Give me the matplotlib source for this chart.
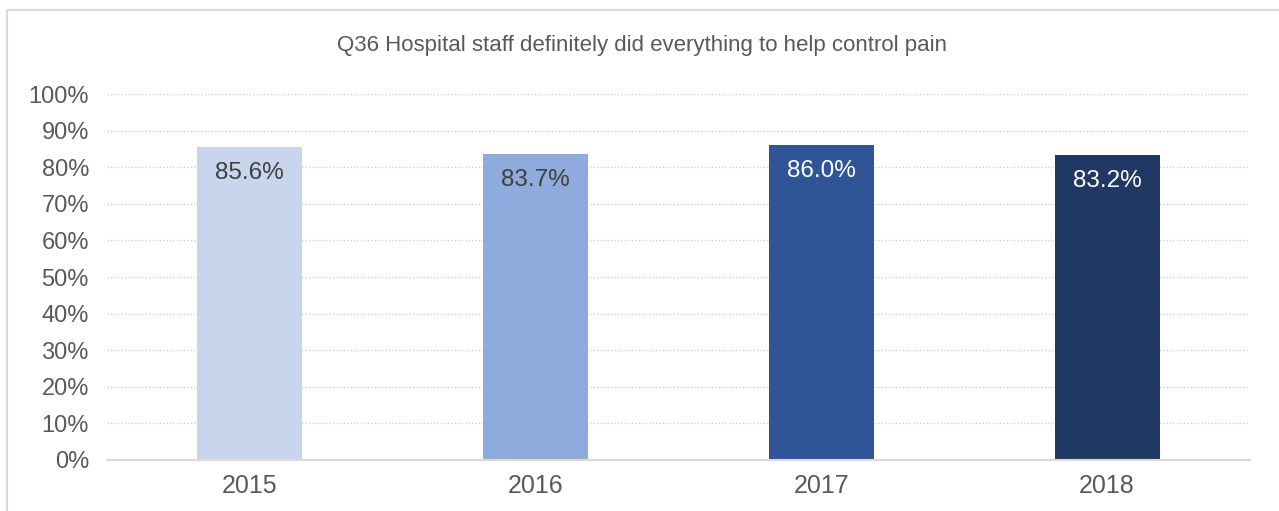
import matplotlib.pyplot as plt
from matplotlib.patches import Rectangle
from matplotlib.ticker import PercentFormatter

plt.rcParams['font.family'] = ['Liberation Sans', 'DejaVu Sans']

years = ['2015', '2016', '2017', '2018']
values = [85.6, 83.7, 86.0, 83.2]
colores = ['#C9D5EC', '#8FAADC', '#2F5597', '#1F3864']
colores_texto = ['#404040', '#404040', 'white', 'white']
titulo = 'Q36 Hospital staff definitely did everything to help control pain'

gris = '#595959'

fig = plt.figure(figsize=(12.79, 5.11), dpi=100)
ax = fig.add_axes([107/1279, 1-460/511, 1143/1279, 366/511])

x = range(len(years))
barras = ax.bar(x, values, width=0.367, color=colores, zorder=2)

# etiquetas dentro de la barra, arriba
for b, v, c in zip(barras, values, colores_texto):
    ax.annotate('%.1f%%' % v, (b.get_x() + b.get_width()/2, v),
                xytext=(0, -26), textcoords='offset pixels',
                ha='center', va='center', fontsize=17.5, color=c)

ax.set_xlim(-0.5, len(years) - 0.5)
ax.set_ylim(0, 100)
ax.set_yticks(range(0, 101, 10))
ax.yaxis.set_major_formatter(PercentFormatter(decimals=0))
ax.set_xticks(list(x))
ax.set_xticklabels(years)
ax.tick_params(axis='both', length=0, labelcolor=gris)
ax.tick_params(axis='y', pad=13, labelsize=17)
ax.tick_params(axis='x', pad=10, labelsize=18)

ax.grid(axis='y', color='#D0D0D0', linestyle=(0, (1, 1.5)), linewidth=1, zorder=0)
for s in ['top', 'right', 'left']:
    ax.spines[s].set_visible(False)
ax.spines['bottom'].set_color('#D9D9D9')
ax.spines['bottom'].set_linewidth(1.5)

fig.text(642/1279, 1-45/511, titulo, ha='center', va='center', fontsize=16, color=gris)

# borde del grafico
fig.patches.append(Rectangle((7/1279, -0.1), 1.2, 1-10/511 + 0.1, transform=fig.transFigure,
                             fill=False, edgecolor='#D9D9D9', linewidth=1.5))

fig.savefig('out.png', dpi=100)
